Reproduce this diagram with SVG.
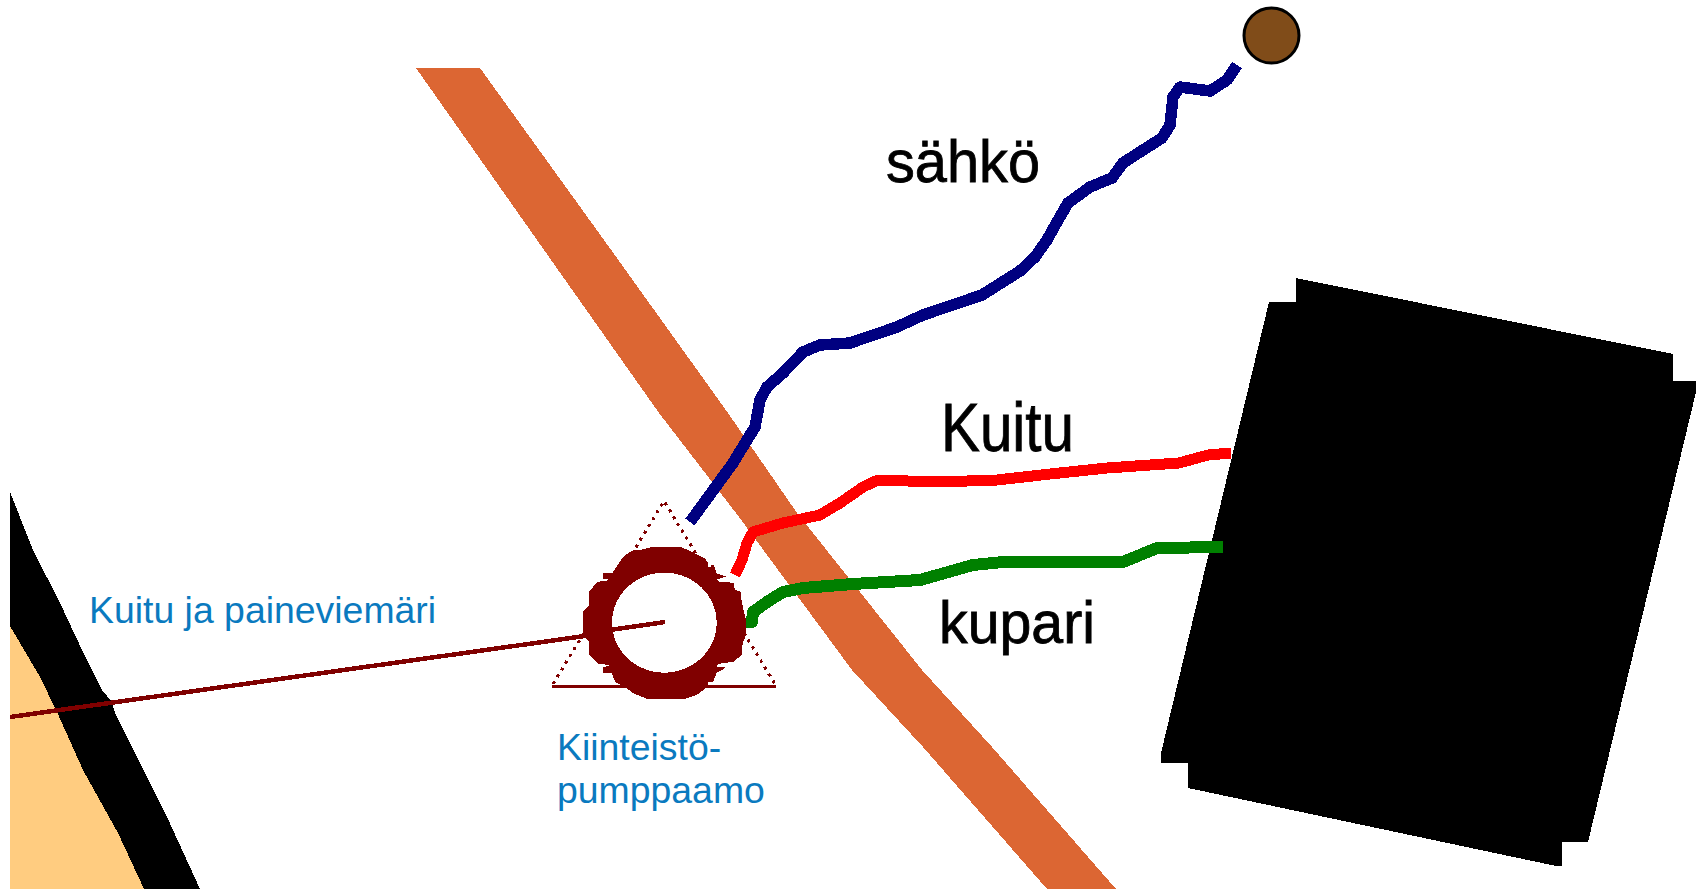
<svg xmlns="http://www.w3.org/2000/svg" width="1702" height="889" viewBox="0 0 1702 889">
<style>
.p{shape-rendering:crispEdges}
.c{fill:none;stroke-linejoin:round;shape-rendering:crispEdges}
.l{font-family:"Liberation Sans",Arial,sans-serif;fill:#000;stroke:#000;stroke-width:.8}
.b{font-family:"Liberation Sans",Arial,sans-serif;fill:#0a7abf;font-size:37.4px}
</style>
<rect width="1702" height="889" fill="#fff"/>
<g id="ground">
<polygon class="p" fill="#ffcc80" points="10,626 40,677 57,712 83,770 118,833 144,889 10,889"/>
<polygon class="p" fill="#000" points="10,492 33,550 60,603 83,652 102,690 112,702 115,713 140,763 167,817 200,889 144,889 118,833 83,770 57,712 40,677 10,626"/>
</g>
<g id="road"><polygon class="p" fill="#dc6633" points="416,68 480,68 604,240 728,413 797,513 860,592 922,670 992,747 1116,889 1047,889 923,747 852,670 739,517 659,413 537,240"/></g>
<g id="building"><polygon class="p" fill="#000" points="1296,278 1673,354 1673,381 1696,381 1696,392 1588,842 1562,842 1562,866 1556,866 1188,788 1188,763 1161,763 1161,753 1269,302 1296,302"/></g>
<g id="connectors">
<polyline class="c" stroke="#800000" stroke-width="4.5" points="10,717 585,636"/>
<polyline class="c" stroke="#800000" stroke-width="4.5" points="610,630 665,622"/>
<polyline class="c" stroke="#000080" stroke-width="11.5" points="690,522 733,463 747,440 755,427 760,400 767,387 783,373 803,352 820,345 850,343 897,327 923,315 982,295 1020,271 1035,257 1047,240 1057,222 1068,203 1090,187 1112,178 1123,163 1143,150 1162,138 1170,125 1173,97 1180,87 1210,91 1227,80 1237,65"/>
<polyline class="c" stroke="#ff0000" stroke-width="11" points="735,575 742,560 747,543 753,532 783,523 820,515 840,503 863,487 878,480 937,482 997,480 1050,474 1107,468 1179,463 1208,455 1231,453"/>
<polyline class="c" stroke="#008000" stroke-width="12" points="746,622 752,622 753,612 767,602 783,592 803,588 853,584 920,580 973,565 1003,562 1123,562 1157,548 1223,547"/>
</g>
<g id="pumppaamo">
<polyline class="c" stroke="#800000" stroke-width="3" stroke-dasharray="3 5" points="553,684 664,501 775,684"/>
<line class="p" stroke="#800000" stroke-width="3" x1="552" y1="686" x2="776" y2="686"/>
<g transform="translate(520 480) scale(.33333)">
<path class="p" fill="#800000" fill-rule="evenodd" d="M400,200L478,200 505,210 555,235 565,250 565,262 573,262 573,255 582,255 590,280 618,290 590,298 600,306 640,308 645,330 662,335 665,365 678,420 678,465 668,490 665,525 640,545 595,552 590,560 618,563 590,578 580,605 565,605 565,612 550,630 530,645 495,657 382,657 340,640 320,625 285,605 275,578 250,578 250,562 270,556 232,550 207,525 207,485 190,465 190,395 207,375 207,335 232,306 270,300 250,296 250,280 278,278 300,245 312,228 340,210 362,210ZM276,428a157,150 0 1 1 314,0a157,150 0 1 1 -314,0Z"/>
</g>
</g>
<g id="source"><circle cx="1271.500" cy="35.500" r="27.500" fill="#804c19" stroke="#000" stroke-width="3"/></g>
<g id="labels">
<text class="l" x="886" y="182" font-size="60" textLength="154" lengthAdjust="spacingAndGlyphs">sähkö</text>
<text class="l" x="941" y="451" font-size="68" textLength="133" lengthAdjust="spacingAndGlyphs">Kuitu</text>
<text class="l" x="939" y="643" font-size="59" textLength="156" lengthAdjust="spacingAndGlyphs">kupari</text>
<text class="b" x="89" y="623">Kuitu ja paineviemäri</text>
<text class="b" x="557" y="760">Kiinteistö-</text>
<text class="b" x="557" y="803">pumppaamo</text>
</g>
</svg>
